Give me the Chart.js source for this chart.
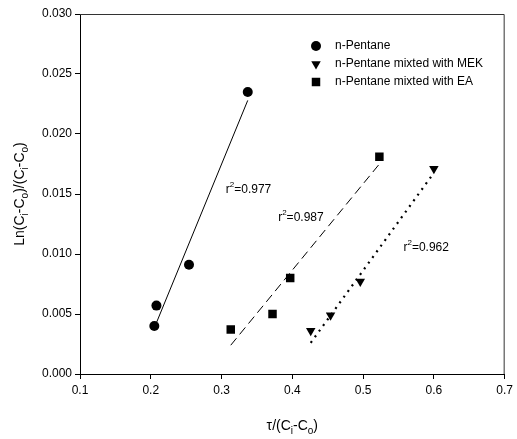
<!DOCTYPE html>
<html>
<head>
<meta charset="utf-8">
<script src="https://cdn.jsdelivr.net/npm/chart.js@4.4.0/dist/chart.umd.min.js"></script>
<style>
  html, body { margin: 0; padding: 0; background: #fff; }
  #wrap { width: 517px; height: 439px; }
</style>
</head>
<body>
<div id="wrap"><canvas id="myChart" width="517" height="439"></canvas></div>
<script>
// values
const pentaneX = [0.205, 0.208, 0.254, 0.337];
const pentaneY = [0.0040, 0.0057, 0.0091, 0.0235];
const mekX = [0.426, 0.454, 0.496, 0.600];
const mekY = [0.0036, 0.0049, 0.0077, 0.0171];
const eaX = [0.313, 0.372, 0.397, 0.523];
const eaY = [0.0037, 0.0050, 0.0080, 0.0181];

// regression lines (end points)
const pentaneFitX = [0.2075, 0.337];
const pentaneFitY = [0.0042, 0.0228];
const mekFitX = [0.426, 0.598];
const mekFitY = [0.0026, 0.0166];
const eaFitX = [0.313, 0.523];
const eaFitY = [0.0024, 0.0175];

const legendLabels = ['n-Pentane', 'n-Pentane mixted with MEK', 'n-Pentane mixted with EA'];
const r2Labels = ['0.977', '0.987', '0.962'];
const r2X = [0.306, 0.380, 0.557];
const r2Y = [0.0154, 0.0130, 0.0105];

const xTicks = [0.1, 0.2, 0.3, 0.4, 0.5, 0.6, 0.7];
const yTicks = [0, 0.005, 0.010, 0.015, 0.020, 0.025, 0.030];

const FONT = '"Liberation Sans", Arial, sans-serif';

function pts(xs, ys) {
    return xs.map((x, i) => ({ x: x, y: ys[i] }));
}

// draws text with sub/superscripts, parts = [[text, 'sub'|'sup'|null], ...]
function drawRich(ctx, parts, x, y, size, align) {
    const small = Math.round(size * 0.7);
    let total = 0;
    parts.forEach(p => {
        ctx.font = (p[1] ? small : size) + 'px ' + FONT;
        total += ctx.measureText(p[0]).width;
    });
    let cx = align === 'center' ? x - total / 2 : x;
    ctx.textAlign = 'left';
    ctx.textBaseline = 'middle';
    parts.forEach(p => {
        ctx.font = (p[1] ? small : size) + 'px ' + FONT;
        let dy = 0;
        if (p[1] === 'sub') dy = size * 0.35;
        if (p[1] === 'sup') dy = -size * 0.4;
        ctx.fillText(p[0], cx, y + dy);
        cx += ctx.measureText(p[0]).width;
    });
}

const extras = {
    id: 'extras',
    afterDraw(chart) {
        const ctx = chart.ctx;
        const area = chart.chartArea;
        const xs = chart.scales.x;
        const ys = chart.scales.y;
        ctx.save();
        ctx.fillStyle = '#000';

        // frame on top and right
        ctx.strokeStyle = '#333';
        ctx.lineWidth = 1;
        ctx.beginPath();
        ctx.moveTo(area.left, area.top + 0.5);
        ctx.lineTo(area.right - 0.5, area.top + 0.5);
        ctx.lineTo(area.right - 0.5, area.bottom);
        ctx.stroke();

        // r2 labels
        r2Labels.forEach((t, i) => {
            drawRich(ctx, [['r', null], ['2', 'sup'], ['=' + t, null]],
                xs.getPixelForValue(r2X[i]), ys.getPixelForValue(r2Y[i]), 12, 'left');
        });

        // legend
        const styles = ['circle', 'triangle', 'rect'];
        const radii = [5, 5.5, 6];
        legendLabels.forEach((t, i) => {
            const ly = area.top + 32 + i * 18;
            ctx.beginPath();
            const mx = area.left + 236;
            if (styles[i] === 'circle') {
                ctx.arc(mx, ly, radii[i], 0, Math.PI * 2);
            } else if (styles[i] === 'triangle') {
                const r = radii[i];
                ctx.moveTo(mx - r * 0.866, ly - r * 0.5);
                ctx.lineTo(mx + r * 0.866, ly - r * 0.5);
                ctx.lineTo(mx, ly + r);
                ctx.closePath();
            } else {
                const s = radii[i] * Math.SQRT1_2;
                ctx.rect(mx - s, ly - s, 2 * s, 2 * s);
            }
            ctx.fill();
            ctx.font = '12px ' + FONT;
            ctx.textAlign = 'left';
            ctx.textBaseline = 'middle';
            ctx.fillText(t, area.left + 255, ly);
        });

        // axis titles
        drawRich(ctx, [['\u03c4/(C', null], ['i', 'sub'], ['-C', null], ['o', 'sub'], [')', null]],
            (area.left + area.right) / 2, 426, 14, 'center');
        ctx.translate(20, (area.top + area.bottom) / 2);
        ctx.rotate(-Math.PI / 2);
        drawRich(ctx, [['Ln(C', null], ['i', 'sub'], ['-C', null], ['o', 'sub'], [')/(C', null],
            ['i', 'sub'], ['-C', null], ['o', 'sub'], [')', null]], 0, 0, 14, 'center');
        ctx.restore();
    }
};

function markerSet(label, xs, ys, style, radius, rotation) {
    return {
        label: label,
        data: pts(xs, ys),
        showLine: false,
        pointStyle: style,
        pointRadius: radius,
        pointRotation: rotation || 0,
        backgroundColor: '#000',
        borderColor: '#000',
        borderWidth: 0
    };
}

function fitSet(xs, ys, width, dash) {
    return {
        data: pts(xs, ys),
        showLine: true,
        pointRadius: 0,
        borderColor: '#000',
        borderWidth: width,
        borderDash: dash,
        fill: false
    };
}

const ctx = document.getElementById('myChart').getContext('2d');
new Chart(ctx, {
    type: 'scatter',
    data: {
        datasets: [
            fitSet(pentaneFitX, pentaneFitY, 1, []),
            fitSet(eaFitX, eaFitY, 1, [9, 5]),
            fitSet(mekFitX, mekFitY, 2.2, [2, 5]),
            markerSet(legendLabels[0], pentaneX, pentaneY, 'circle', 5),
            markerSet(legendLabels[1], mekX, mekY, 'triangle', 5.5, 180),
            markerSet(legendLabels[2], eaX, eaY, 'rect', 6)
        ]
    },
    options: {
        responsive: false,
        animation: false,
        layout: { padding: { top: 14, right: 9, left: 0, bottom: 0 } },
        plugins: {
            legend: { display: false },
            tooltip: { enabled: false }
        },
        scales: {
            x: {
                type: 'linear',
                min: 0.1,
                max: 0.7,
                afterBuildTicks: s => { s.ticks = xTicks.map(v => ({ value: v })); },
                afterFit: s => { s.height = 65; },
                ticks: {
                    color: '#000',
                    font: { family: FONT, size: 12 },
                    padding: 4,
                    callback: v => v.toFixed(1)
                },
                grid: { drawOnChartArea: false, drawTicks: true, tickLength: 5, color: '#000' },
                border: { display: true, color: '#000' }
            },
            y: {
                type: 'linear',
                min: 0,
                max: 0.03,
                afterBuildTicks: s => { s.ticks = yTicks.map(v => ({ value: v })); },
                afterFit: s => { s.width = 80; },
                ticks: {
                    color: '#000',
                    font: { family: FONT, size: 12 },
                    padding: 3,
                    callback: v => v.toFixed(3)
                },
                grid: { drawOnChartArea: false, drawTicks: true, tickLength: 5, color: '#000' },
                border: { display: true, color: '#000' }
            }
        }
    },
    plugins: [extras]
});
</script>
</body>
</html>
